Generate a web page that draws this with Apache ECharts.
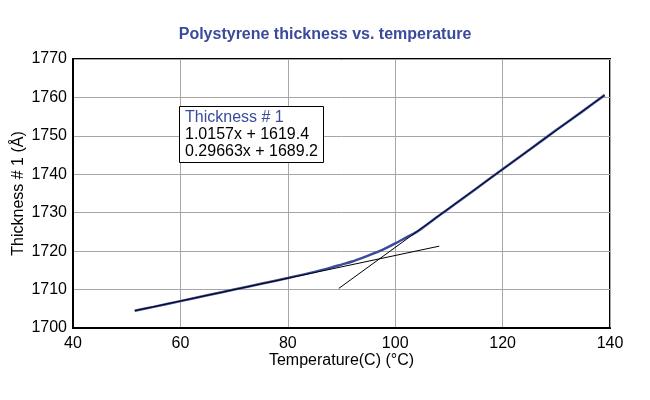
<!DOCTYPE html>
<html>
<head>
<meta charset="utf-8">
<script src="https://cdn.jsdelivr.net/npm/echarts@6/dist/echarts.min.js"></script>
<style>html,body{margin:0;padding:0;background:#fff}#c{width:650px;height:400px}</style>
</head>
<body>
<div id="c"></div>
<script>
var temps = [51.5, 55, 60, 65, 70, 75, 80, 85, 88, 90, 92, 94, 96, 98, 100, 102, 104, 106, 108, 110, 115, 120, 125, 130, 135, 139];
var thickness = [1704.5, 1705.5, 1707.0, 1708.5, 1710.0, 1711.5, 1713.0, 1714.6, 1715.7, 1716.5, 1717.3, 1718.3, 1719.4, 1720.6, 1722.0, 1723.5, 1725.0, 1727.0, 1729.1, 1731.1, 1736.2, 1741.3, 1746.4, 1751.5, 1756.5, 1760.6];
var lowFitX = [51.5, 108.2];
var lowFitY = [1704.5, 1721.3];
var highFitX = [89.5, 139];
var highFitY = [1710.3, 1760.6];
var legendLines = ['Thickness # 1', '1.0157x + 1619.4', '0.29663x + 1689.2'];
var xTicks = [40, 60, 80, 100, 120, 140];
var yTicks = [1700, 1710, 1720, 1730, 1740, 1750, 1760, 1770];

function pairs(xs, ys) { return xs.map(function (x, i) { return [x, ys[i]]; }); }

var chart = echarts.init(document.getElementById('c'));
var font = 'Liberation Sans, Arial, sans-serif';
chart.setOption({
  animation: false,
  backgroundColor: '#fff',
  title: [{
    text: 'Polystyrene thickness vs. temperature',
    left: 'center', top: 22,
    textStyle: { color: '#3a4a9c', fontSize: 16, fontWeight: 'bold', fontFamily: font }
  }, {
    text: '{b|' + legendLines[0] + '}\n' + legendLines[1] + '\n' + legendLines[2],
    left: 179, top: 106,
    padding: [3, 6, 3, 6],
    backgroundColor: '#fff',
    borderColor: '#000', borderWidth: 1,
    textStyle: {
      fontSize: 16, fontWeight: 'normal', color: '#000', fontFamily: font, lineHeight: 17,
      rich: { b: { color: '#3a4a9c', fontSize: 16, fontFamily: font, lineHeight: 17 } }
    }
  }],
  grid: {
    left: 73, right: 40, top: 59, bottom: 72,
    outerBoundsMode: 'none', containLabel: false,
    show: true, borderColor: '#000', borderWidth: 2
  },
  xAxis: {
    type: 'value', min: 40, max: 140, interval: 20,
    name: 'Temperature(C) (°C)', nameLocation: 'middle', nameGap: 25, nameMoveOverlap: false,
    nameTextStyle: { fontSize: 16, color: '#000', fontFamily: font },
    axisLine: { show: true, lineStyle: { color: '#000', width: 2 } },
    axisTick: { show: false },
    axisLabel: { fontSize: 16, color: '#000', fontFamily: font, margin: 8,
      formatter: function (v) { return xTicks.indexOf(v) >= 0 ? String(v) : ''; } },
    splitLine: { show: true, lineStyle: { color: '#a6a6a6', width: 1 } }
  },
  yAxis: {
    type: 'value', min: 1700, max: 1770, interval: 10,
    name: 'Thickness # 1 (Å)', nameLocation: 'middle', nameGap: 46, nameRotate: 90, nameMoveOverlap: false,
    nameTextStyle: { fontSize: 16, color: '#000', fontFamily: font },
    axisLine: { show: true, lineStyle: { color: '#000', width: 2 } },
    axisTick: { show: false },
    axisLabel: { fontSize: 16, color: '#000', fontFamily: font, margin: 6,
      formatter: function (v) { return yTicks.indexOf(v) >= 0 ? String(v) : ''; } },
    splitLine: { show: true, lineStyle: { color: '#a6a6a6', width: 1 } }
  },
  series: [{
    type: 'line', data: pairs(temps, thickness), showSymbol: false, smooth: 0.3,
    lineStyle: { color: '#3a4a9c', width: 2.5 }, z: 2
  }, {
    type: 'line', data: pairs(lowFitX, lowFitY), showSymbol: false,
    lineStyle: { color: '#000', width: 1 }, z: 3
  }, {
    type: 'line', data: pairs(highFitX, highFitY), showSymbol: false,
    lineStyle: { color: '#000', width: 1 }, z: 3
  }]
});
</script>
</body>
</html>
